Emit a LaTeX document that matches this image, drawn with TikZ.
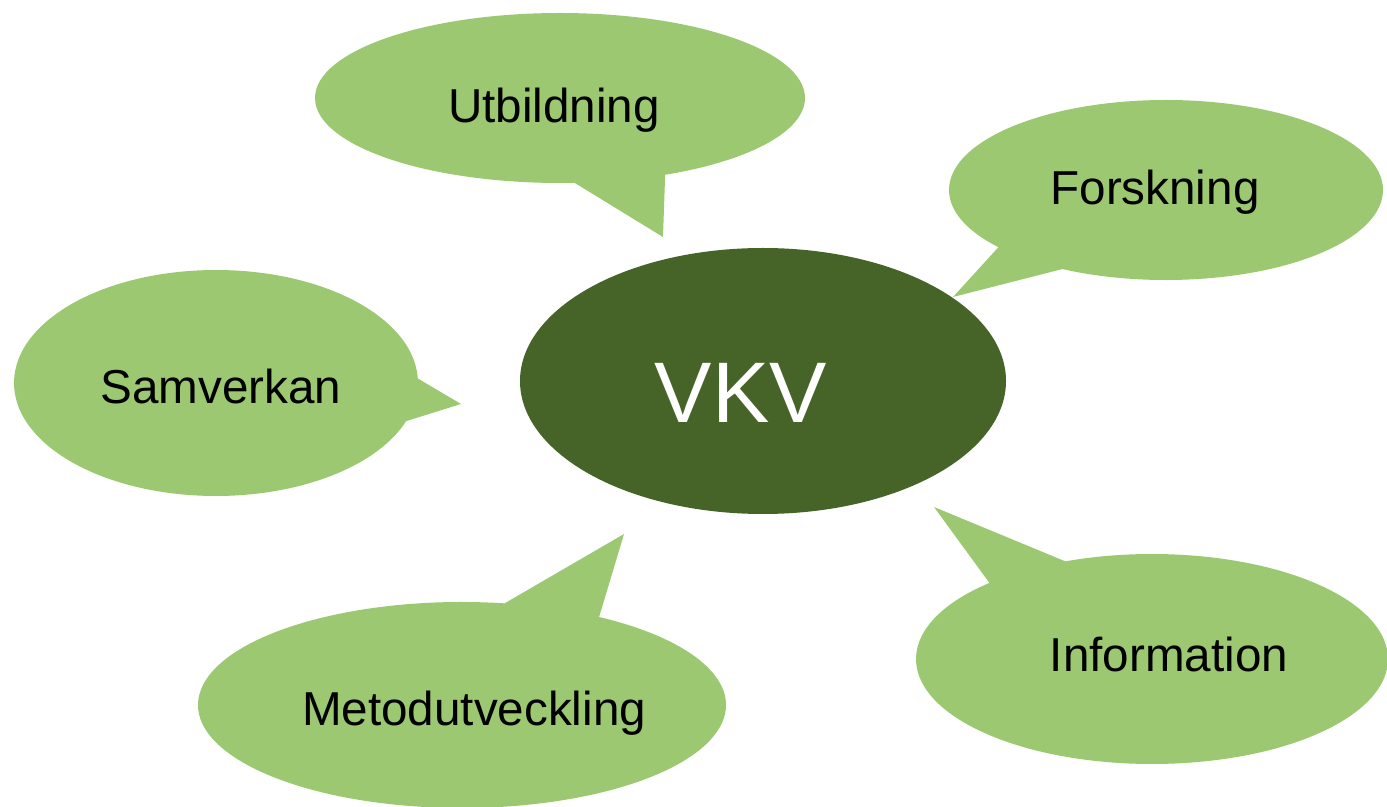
\documentclass[tikz,border=0pt]{standalone}
\usepackage{fontspec}
\setmainfont{Liberation Sans}
\usetikzlibrary{shapes.geometric}
\usetikzlibrary{shapes.callouts}
\definecolor{leafgreen}{RGB}{155,200,112}
\definecolor{darkleaf}{RGB}{70,100,40}

\begin{document}
\begin{tikzpicture}[x=0.5pt,y=-0.5pt,
    bubble/.style={ellipse callout,fill=leafgreen,inner sep=0pt,callout pointer arc=22},
    core/.style={ellipse,fill=darkleaf,inner sep=0pt},
    txt/.style={font=\fontsize{23.8}{28}\selectfont},
    bigtxt/.style={text=white,font=\fontsize{43}{50}\selectfont}]
  \useasboundingbox (0,0) rectangle (1387,807);
  % tips of the bubbles
  \coordinate (utip) at (663,237);
  \coordinate (ftip) at (953,297);
  \coordinate (stip) at (461,404);
  \coordinate (mtip) at (624,534);
  \coordinate (itip) at (934,507);

  \node[core,minimum width=243pt,minimum height=133pt,label={[bigtxt,shift={(-22,12)}]center:VKV}] (vkv) at (763,381) {};

  \node[bubble,minimum width=245pt,minimum height=85pt,callout absolute pointer=(utip),label={[txt,shift={(-6,12)}]center:Utbildning}] (utb) at (560,98) {};
  \node[bubble,minimum width=217pt,minimum height=90pt,callout absolute pointer=(ftip),label={[txt,shift={(-11,2)}]center:Forskning}] (fors) at (1166,190) {};
  \node[bubble,minimum width=202pt,minimum height=113pt,callout absolute pointer=(stip),label={[txt,shift={(5,3)}]center:Samverkan}] (samv) at (216,383) {};
  \node[bubble,minimum width=264pt,minimum height=103pt,callout absolute pointer=(mtip),label={[txt,shift={(12,8)}]center:Metodutveckling}] (meto) at (462,705) {};
  \node[bubble,minimum width=236pt,minimum height=105pt,callout absolute pointer=(itip),label={[txt,shift={(17,-5)}]center:Information}] (info) at (1152,659) {};
\end{tikzpicture}
\end{document}
